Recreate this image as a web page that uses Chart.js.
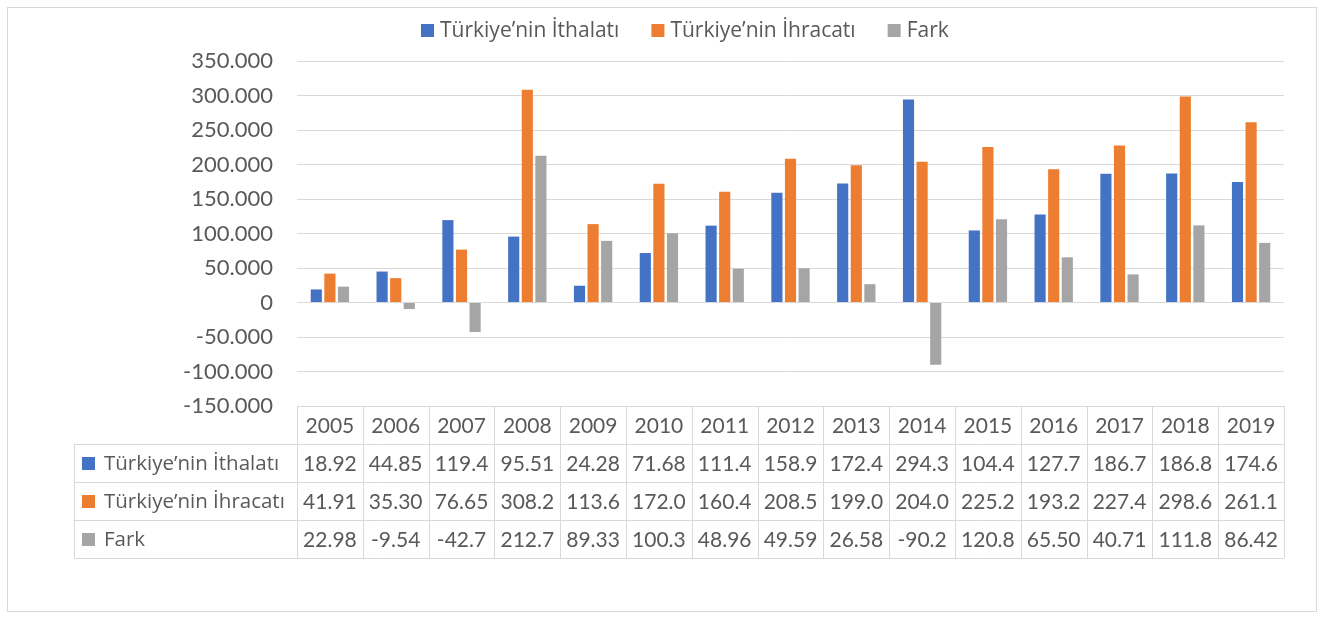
<!DOCTYPE html>
<html>
<head>
<meta charset="utf-8">
<script src="https://cdn.jsdelivr.net/npm/chart.js@4.4.1/dist/chart.umd.min.js"></script>
<style>
  html, body { margin: 0; padding: 0; background: #fff; }
  #wrap { width: 1325px; height: 617px; }
</style>
</head>
<body>
<div id="wrap"><canvas id="c" width="1325" height="617" style="width:1325px;height:617px"></canvas></div>
<script>
// veriler (tablodan okunan değerler)
const years = ['2005', '2006', '2007', '2008', '2009', '2010', '2011', '2012', '2013', '2014', '2015', '2016', '2017', '2018', '2019'];
const ithalat = [18.92, 44.85, 119.4, 95.51, 24.28, 71.68, 111.4, 158.9, 172.4, 294.3, 104.4, 127.7, 186.7, 186.8, 174.6];
const ihracat = [41.91, 35.30, 76.65, 308.2, 113.6, 172.0, 160.4, 208.5, 199.0, 204.0, 225.2, 193.2, 227.4, 298.6, 261.1];
const fark = [22.98, -9.54, -42.7, 212.7, 89.33, 100.3, 48.96, 49.59, 26.58, -90.2, 120.8, 65.50, 40.71, 111.8, 86.42];
const yTickValues = [-150, -100, -50, 0, 50, 100, 150, 200, 250, 300, 350];
const yTickLabels = ['-150.000', '-100.000', '-50.000', '0', '50.000', '100.000', '150.000', '200.000', '250.000', '300.000', '350.000'];

const seriesNames = ['Türkiye’nin İthalatı', 'Türkiye’nin İhracatı', 'Fark'];
const colors = ['#4472C4', '#ED7D31', '#A5A5A5'];
const FONT = 'Lato';
const LABEL_FONT = '"Open Sans"';
const textColor = '#595959';
const lineColor = '#D9D9D9';

// tabloda görünen kısaltılmış değer
function cellText(v) {
    return v.toPrecision(4).slice(0, 5);
}

const frame = {
    id: 'frame',
    beforeDraw(chart) {
        const ctx = chart.ctx;
        ctx.save();
        ctx.fillStyle = '#fff';
        ctx.fillRect(0, 0, chart.width, chart.height);
        ctx.strokeStyle = lineColor;
        ctx.lineWidth = 1;
        ctx.strokeRect(7.5, 7.5, 1309, 604);
        ctx.restore();
    }
};

// Excel tarzı üst açıklama
const topLegend = {
    id: 'topLegend',
    afterDraw(chart) {
        const ctx = chart.ctx;
        const box = 13, gap = 6, itemGap = 32;
        const cy = 31;
        ctx.save();
        ctx.font = '21px ' + LABEL_FONT;
        ctx.textBaseline = 'middle';
        ctx.textAlign = 'left';
        const widths = seriesNames.map(s => ctx.measureText(s).width);
        const total = widths.reduce((a, w) => a + box + gap + w, 0) + itemGap * (seriesNames.length - 1);
        let x = Math.round(685 - total / 2);
        seriesNames.forEach((name, i) => {
            ctx.fillStyle = colors[i];
            ctx.fillRect(x, cy - 7, box, box);
            ctx.fillStyle = textColor;
            ctx.fillText(name, x + box + gap, cy);
            x += box + gap + widths[i] + itemGap;
        });
        ctx.restore();
    }
};

const dataTable = {
    id: 'dataTable',
    afterDraw(chart) {
        const ctx = chart.ctx;
        const area = chart.chartArea;
        const xs = chart.scales.x;
        const n = years.length;
        const cw = (area.right - area.left) / n;
        const rowH = 38;
        const top = Math.round(area.bottom);
        const leftX = 74;
        const left = Math.round(area.left);
        const right = Math.round(area.right);
        const rows = [ithalat, ihracat, fark];

        ctx.save();
        ctx.strokeStyle = lineColor;
        ctx.lineWidth = 1;
        ctx.beginPath();
        ctx.moveTo(left, top + 0.5);
        ctx.lineTo(right, top + 0.5);
        for (let r = 1; r <= 4; r++) {
            ctx.moveTo(leftX, top + r * rowH + 0.5);
            ctx.lineTo(right, top + r * rowH + 0.5);
        }
        for (let i = 0; i <= n; i++) {
            const x = Math.round(area.left + i * cw) + 0.5;
            ctx.moveTo(x, top);
            ctx.lineTo(x, top + 4 * rowH);
        }
        ctx.moveTo(leftX + 0.5, top + rowH);
        ctx.lineTo(leftX + 0.5, top + 4 * rowH);
        ctx.stroke();

        ctx.font = '21px ' + FONT;
        ctx.fillStyle = textColor;
        ctx.textBaseline = 'middle';
        ctx.textAlign = 'center';
        years.forEach((y, i) => {
            ctx.fillText(y, xs.getPixelForValue(i), top + rowH / 2 + 1);
        });
        rows.forEach((vals, r) => {
            const cy = top + (r + 1) * rowH + rowH / 2 + 1;
            ctx.font = '21px ' + FONT;
            ctx.textAlign = 'center';
            ctx.fillStyle = textColor;
            vals.forEach((v, i) => {
                ctx.fillText(cellText(v), xs.getPixelForValue(i), cy);
            });
            ctx.fillStyle = colors[r];
            ctx.fillRect(leftX + 8, cy - 7, 13, 13);
            ctx.fillStyle = textColor;
            ctx.textAlign = 'left';
            ctx.font = '20.5px ' + LABEL_FONT;
            ctx.fillText(seriesNames[r], leftX + 30, cy);
        });
        ctx.restore();
    }
};

new Chart(document.getElementById('c'), {
    type: 'bar',
    data: {
        labels: years,
        datasets: [
            { label: seriesNames[0], data: ithalat, backgroundColor: colors[0] },
            { label: seriesNames[1], data: ihracat, backgroundColor: colors[1] },
            { label: seriesNames[2], data: fark, backgroundColor: colors[2] }
        ]
    },
    options: {
        responsive: false,
        animation: false,
        devicePixelRatio: 1,
        layout: {
            padding: { top: 61, left: 74, right: 41, bottom: 211 }
        },
        datasets: {
            bar: {
                categoryPercentage: 0.62,
                barPercentage: 0.82
            }
        },
        plugins: {
            legend: { display: false },
            tooltip: { enabled: false }
        },
        scales: {
            x: {
                display: false
            },
            y: {
                min: -150,
                max: 350,
                afterBuildTicks(scale) {
                    scale.ticks = yTickValues.map(v => ({ value: v }));
                },
                afterFit(scale) {
                    scale.width = 223;
                },
                grid: {
                    color: lineColor,
                    drawTicks: false
                },
                border: { display: false },
                ticks: {
                    padding: 24,
                    color: textColor,
                    font: { family: FONT, size: 22 },
                    callback: v => yTickLabels[yTickValues.indexOf(v)]
                }
            }
        }
    },
    plugins: [frame, topLegend, dataTable]
});
</script>
</body>
</html>
